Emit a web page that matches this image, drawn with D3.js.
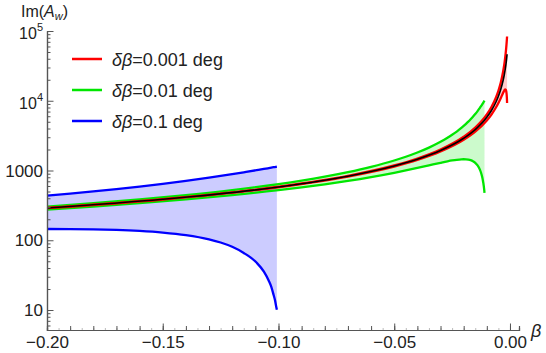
<!DOCTYPE html>
<html>
<head>
<meta charset="utf-8">
<script src="https://cdn.jsdelivr.net/npm/d3@7"></script>
<style>
  body { margin: 0; background: #fff; }
  svg { font-family: "Liberation Sans", Arial, sans-serif; }
</style>
</head>
<body>
<svg class="chart" width="546" height="353"></svg>
<script>
// values (beta, Im(A_w))
const betaCenter = [-0.2, -0.15, -0.1, -0.07, -0.05, -0.04, -0.03, -0.02, -0.015, -0.01, -0.008, -0.006, -0.005, -0.004, -0.003, -0.0025, -0.002, -0.0017, -0.0015, -0.0013, -0.00125];
const center = [290, 386.7, 580, 828.6, 1160, 1450, 1933, 2900, 3867, 5800, 7250, 9667, 11600, 14500, 19333, 23200, 29000, 34118, 38667, 44615, 46400];

// delta beta = 0.1 deg
const betaBlue = [-0.2, -0.19, -0.18, -0.17, -0.16, -0.15, -0.14, -0.13, -0.125, -0.12, -0.115, -0.1095, -0.1063, -0.1042, -0.1031, -0.1021, -0.1015, -0.101, -0.1007];
const blueUpper = [435, 465.9, 501.2, 541.9, 589.1, 644.4, 710.2, 789.4, 835.2, 886.1, 942.9, 1010, 1052, 1082, 1098, 1114, 1122, 1130, 1134];
const blueLower = [145, 144.6, 143.2, 140.5, 135.9, 128.9, 118.4, 103.0, 92.8, 80.6, 65.8, 47.9, 35.5, 26.3, 21.5, 16.4, 13.8, 11.2, 10.1];

// delta beta = 0.01 deg
const betaGreen = [-0.2, -0.18, -0.16, -0.14, -0.12, -0.1, -0.09, -0.08, -0.07, -0.06, -0.05, -0.045, -0.04, -0.035, -0.03, -0.027, -0.025, -0.023, -0.021, -0.02, -0.019, -0.018, -0.017, -0.016, -0.015, -0.014, -0.013, -0.0125, -0.012, -0.0117, -0.0115, -0.0113, -0.0112, -0.0111, -0.011];
const greenUpper = [304.5, 340.1, 385.2, 443.9, 523.6, 638, 716.0, 815.6, 946.9, 1127.8, 1392, 1575.3, 1812.5, 2130.6, 2577.8, 2943.8, 3248, 3618.2, 4077.1, 4350, 4659.3, 5012.3, 5418.7, 5890.6, 6444.4, 7102.0, 7893.5, 8352, 8861.1, 9194.3, 9429.1, 9675.0, 9802.3, 9932.6, 10066];
const greenLower = [275.5, 304.3, 339.8, 384.7, 443.1, 522, 572.8, 634.4, 710.2, 805.6, 928, 1002.5, 1087.5, 1183.7, 1288.9, 1352.5, 1392, 1425.3, 1446.7, 1450, 1446.0, 1432.1, 1404.8, 1359.4, 1288.9, 1183.7, 1029.6, 928, 805.6, 720.3, 657.8, 590.5, 554.8, 517.8, 479.3];

// delta beta = 0.001 deg
const betaRed = [-0.2, -0.15, -0.1, -0.07, -0.05, -0.04, -0.03, -0.02, -0.015, -0.01, -0.008, -0.006, -0.005, -0.004, -0.0035, -0.003, -0.0027, -0.0025, -0.0023, -0.0021, -0.002, -0.0019, -0.0018, -0.0017, -0.0016, -0.0015, -0.0014, -0.00135, -0.0013, -0.00125];
const redUpper = [291.45, 389.2, 585.8, 840.4, 1183.2, 1486.3, 1997.8, 3045, 4124.4, 6380, 8156, 11278, 13920, 18125, 21306, 25778, 29438, 32480, 36182, 40771, 43500, 46593, 50123, 54187, 58906, 64444, 71020, 74787, 78935, 83520];
const redLower = [288.55, 384.1, 574.2, 816.7, 1136.8, 1413.8, 1868.9, 2755, 3608.9, 5220, 6344, 8056, 9280, 10875, 11837, 12889, 13525, 13920, 14253, 14467, 14500, 14460, 14321, 14048, 13594, 12889, 11837, 11139, 10296, 9280];

const xMajor = [-0.2, -0.15, -0.1, -0.05, 0];
const yMajor = [10, 100, 1000, 1e4, 1e5];
const yLabels = ["10", "100", "1000", "10^4", "10^5"];
const legendLabels = ["0.001", "0.01", "0.1"];

const svg = d3.select(".chart");

const x = d3.scaleLinear().domain([-0.2, 0.0039]).range([47, 519]);
const y = d3.scaleLog().domain([5.17, 1e5]).range([330, 31]);

const bands = [
  { beta: betaBlue, up: blueUpper, lo: blueLower, color: "#0000ff" },
  { beta: betaGreen, up: greenUpper, lo: greenLower, color: "#00e600" },
  { beta: betaRed, up: redUpper, lo: redLower, color: "#ff0000" }
];

const area = d3.area()
  .x(d => x(d[0])).y0(d => y(d[1])).y1(d => y(d[2]))
  .curve(d3.curveMonotoneX);
const line = d3.line()
  .x(d => x(d[0])).y(d => y(d[1]))
  .curve(d3.curveMonotoneX);

const g = svg.append("g");

bands.forEach(b => {
  const pts = b.beta.map((v, i) => [v, b.lo[i], b.up[i]]);
  g.append("path")
    .attr("d", area(pts))
    .attr("fill", b.color)
    .attr("fill-opacity", 0.2);
});

bands.forEach(b => {
  [b.up, b.lo].forEach(s => {
    g.append("path")
      .attr("d", line(b.beta.map((v, i) => [v, s[i]])))
      .attr("fill", "none")
      .attr("stroke", b.color)
      .attr("stroke-width", 2.3);
  });
});

g.append("path")
  .attr("d", line(betaCenter.map((v, i) => [v, center[i]])))
  .attr("fill", "none")
  .attr("stroke", "#000")
  .attr("stroke-width", 1.6);

// x axis
const axisColor = "#555";
const xAxis = svg.append("g").attr("transform", "translate(0,330)");
xAxis.call(d3.axisBottom(x).tickValues(d3.range(-0.2, 0.0001, 0.005)).tickSize(-2).tickFormat(""));
xAxis.call(g2 => g2.selectAll(".tick line").attr("stroke", "#bbb"));
const xAxis2 = svg.append("g").attr("transform", "translate(0,330)");
xAxis2.call(d3.axisBottom(x).tickValues(d3.range(-0.2, 0.0001, 0.01)).tickSize(-4).tickFormat(""));
const xAxis3 = svg.append("g").attr("transform", "translate(0,330)");
xAxis3.call(d3.axisBottom(x).tickValues(xMajor).tickSizeInner(-6.5).tickSizeOuter(0).tickPadding(6).tickFormat(d3.format(".2f")));
[xAxis, xAxis2, xAxis3].forEach(a => {
  a.select(".domain").attr("stroke", axisColor).attr("stroke-width", 1.2);
  a.selectAll("text").attr("font-size", 17).attr("fill", "#222").attr("font-family", "Liberation Sans, Arial, sans-serif");
});
xAxis2.selectAll(".tick line").attr("stroke", axisColor);
xAxis3.selectAll(".tick line").attr("stroke", axisColor);

// y axis
const yAxis = svg.append("g").attr("transform", "translate(47,0)");
const yMinor = [];
[1, 10, 100, 1000, 10000].forEach(dec => {
  for (let k = 2; k <= 9; k++) if (dec * k > 5.17) yMinor.push(dec * k);
});
yAxis.call(d3.axisLeft(y).tickValues(yMinor).tickSize(-3.5).tickFormat(""));
const yAxis2 = svg.append("g").attr("transform", "translate(47,0)");
yAxis2.call(d3.axisLeft(y).tickValues(yMajor).tickSizeInner(-6.5).tickSizeOuter(0).tickFormat(""));
[yAxis, yAxis2].forEach(a => {
  a.select(".domain").attr("stroke", axisColor).attr("stroke-width", 1.2);
  a.selectAll(".tick line").attr("stroke", axisColor);
});

yMajor.forEach((v, i) => {
  const lab = yLabels[i];
  const yy = y(v);
  if (lab.includes("^")) {
    const [base, ex] = lab.split("^");
    const t = svg.append("text")
      .attr("x", 43).attr("y", yy + 8)
      .attr("text-anchor", "end")
      .attr("font-size", 16).attr("fill", "#222");
    t.append("tspan").text(base);
    t.append("tspan").attr("font-size", 11).attr("dy", -8).text(ex);
  } else {
    svg.append("text")
      .attr("x", 43).attr("y", yy + 6)
      .attr("text-anchor", "end")
      .attr("font-size", 17).attr("fill", "#222")
      .text(lab);
  }
});

// axis labels
const yl = svg.append("text").attr("x", 21).attr("y", 17).attr("font-size", 16).attr("fill", "#222");
yl.append("tspan").text("Im(");
yl.append("tspan").attr("font-style", "italic").text("A");
yl.append("tspan").attr("font-style", "italic").attr("font-size", 11).attr("dy", 3).text("w");
yl.append("tspan").attr("dy", -3).text(")");

svg.append("text").attr("x", 531).attr("y", 337)
  .attr("font-size", 18).attr("font-style", "italic").attr("fill", "#222").text("β");

// legend
const legendColors = ["#ff0000", "#00e600", "#0000ff"];
legendLabels.forEach((lab, i) => {
  const ly = 59 + i * 31;
  svg.append("line").attr("x1", 72).attr("x2", 102).attr("y1", ly).attr("y2", ly)
    .attr("stroke", legendColors[i]).attr("stroke-width", 2.5);
  const t = svg.append("text").attr("x", 112).attr("y", ly + 6.5)
    .attr("font-size", 18).attr("fill", "#222");
  t.append("tspan").attr("font-style", "italic").text("δβ");
  t.append("tspan").text("=" + lab + " deg");
});
</script>
</body>
</html>
